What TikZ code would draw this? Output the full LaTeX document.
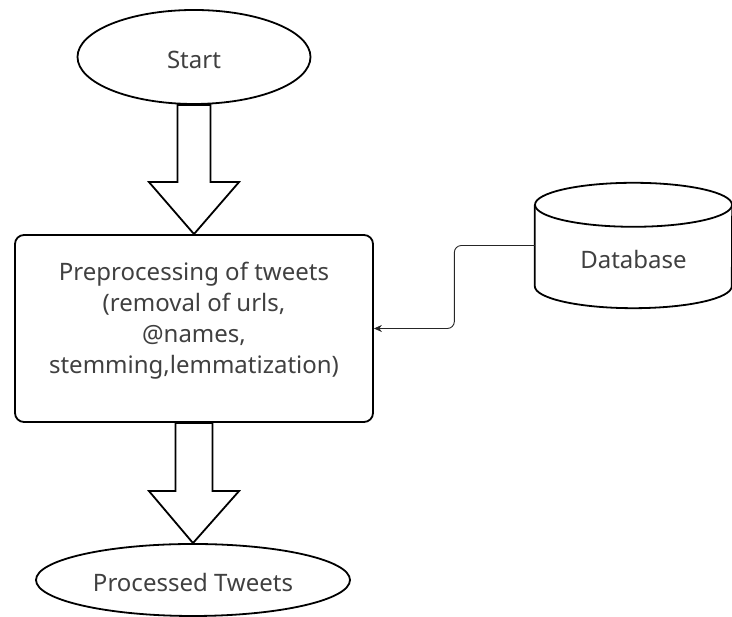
\documentclass[tikz,border=0pt]{standalone}
\usepackage{fontspec}
\setmainfont{Noto Sans}
\usetikzlibrary{arrows.meta,positioning,shapes.geometric,calc}
\definecolor{txtgray}{HTML}{404040}
\tikzset{%
   term/.style={
      ellipse,
      draw=black,
      line width=1.8pt,
      fill=white,
      inner sep=0pt,
      text=txtgray,
      font=\fontsize{24}{31}\selectfont
   },
   procbox/.style={
      rectangle,
      rounded corners=9pt,
      draw=black,
      line width=1.8pt,
      minimum width=358pt,
      minimum height=187pt
   },
   txt/.style={
      align=center,
      inner sep=0pt,
      text=txtgray,
      font=\fontsize{24}{31}\selectfont
   },
   dbbody/.style={
      rectangle,
      minimum width=197pt,
      minimum height=125pt,
      inner sep=0pt
   },
   dbline/.style={
      draw=black,
      line width=1.8pt
   },
   fat/.style={
      draw=black,
      fill=white,
      line width=1.8pt,
      line join=miter
   },
   link/.style={
      draw=black!85,
      line width=0.9pt,
      rounded corners=7pt,
      -{Stealth[length=8pt,width=7pt]}
   },
}
\newcommand\fatarrow[3]{%
   \draw[fat] let \p1=(#1), \p2=(#2) in
      (\x1-#3pt,\y1) -- (\x1-#3pt,\y2+52pt) -- (\x1-45pt,\y2+52pt) -- (\x2,\y2)
      -- (\x1+45pt,\y2+52pt) -- (\x1+#3pt,\y2+52pt) -- (\x1+#3pt,\y1) -- cycle;}

\begin{document}
\begin{tikzpicture}[x=1pt, y=1pt]
   \useasboundingbox (0,0) rectangle (732,617);

   \node[term, minimum width=233pt, minimum height=94pt] (start) at (194,560) {};
   \node[txt] (starttext) at ([yshift=-3pt]start.center) {Start};
   \node[procbox] (prep) at (194,288.5) {};
   \node[txt] (preptext) at ([yshift=8pt]prep.center)
      {Preprocessing of tweets\\(removal of urls,\\@names,\\stemming,lemmatization)};
   \node[term, minimum width=314pt, minimum height=72pt] (done) at (193,37) {};
   \node[txt] (donetext) at ([yshift=-3pt]done.center) {Processed Tweets};

   \node[dbbody] (db) at (633.5,371.5) {};
   \draw[dbline] ([yshift=-22pt]db.north) ellipse [x radius=98.5pt, y radius=22pt];
   \draw[dbline] ([yshift=-22pt]db.north west) -- ([yshift=22pt]db.south west)
      arc[start angle=180, end angle=360, x radius=98.5pt, y radius=22pt]
      -- ([yshift=-22pt]db.north east);
   \node[txt] (dbtext) at ([yshift=-14pt]db.center) {Database};

   \fatarrow{start.south}{prep.north}{16.5}
   \fatarrow{prep.south}{done.north}{18.5}

   \draw[link] (db.west) -- ($(db.west)!0.5!(db.west -| prep.east)$) |- (prep.east);
\end{tikzpicture}
\end{document}
